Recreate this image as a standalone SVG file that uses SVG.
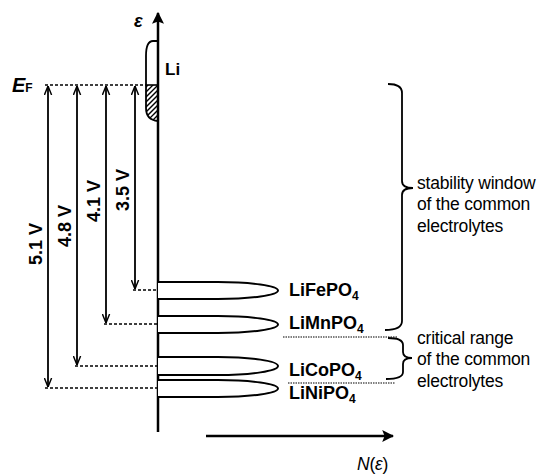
<svg xmlns="http://www.w3.org/2000/svg" width="556" height="475" viewBox="0 0 556 475">
<style>
.ax{stroke:#000;stroke-width:2.5;fill:none}
.ln{stroke:#000;stroke-width:1.8;fill:none}
.dash{stroke:#000;stroke-width:1.6;stroke-dasharray:3 2;fill:none}
.dot{stroke:#000;stroke-width:1.2;stroke-dasharray:1.5 1;fill:none}
.band{stroke:#000;stroke-width:2;fill:#fff}
.br{stroke:#000;stroke-width:1.8;fill:none}
.bl{font-family:"Liberation Sans",Arial,sans-serif;font-weight:bold;fill:#000}
.rg{font-family:"Liberation Sans",Arial,sans-serif;font-size:17.5px;letter-spacing:-0.2px;fill:#000}
.mat{font-size:18px}
.v{font-size:18px}
</style>
<defs>
<marker id="va" viewBox="0 0 10 10" refX="10" refY="5" markerWidth="9" markerHeight="9" markerUnits="userSpaceOnUse" orient="auto-start-reverse"><path d="M0,1 L10,5 L0,9" fill="none" stroke="#000" stroke-width="1.6"/></marker>
<marker id="fa" viewBox="0 0 10 10" refX="9" refY="5" markerWidth="12" markerHeight="12" markerUnits="userSpaceOnUse" orient="auto"><path d="M0,0 L10,5 L0,10 L2,5 z" fill="#000"/></marker>
<clipPath id="hatchclip"><path d="M158,85 H146 L146,108 Q146,120 158,121 Z"/></clipPath>
</defs>
<rect width="556" height="475" fill="#fff"/>

<g id="connectors">
<line class="dash" x1="45" y1="85" x2="146" y2="85"/>
<line class="dash" x1="133" y1="290" x2="158" y2="290"/>
<line class="dash" x1="104" y1="324" x2="158" y2="324"/>
<line class="dash" x1="75" y1="366" x2="158" y2="366"/>
<line class="dash" x1="45" y1="388" x2="158" y2="388"/>
<line class="ln" x1="135" y1="86" x2="135" y2="289" marker-start="url(#va)" marker-end="url(#va)"/>
<line class="ln" x1="106" y1="86" x2="106" y2="323" marker-start="url(#va)" marker-end="url(#va)"/>
<line class="ln" x1="77" y1="86" x2="77" y2="365" marker-start="url(#va)" marker-end="url(#va)"/>
<line class="ln" x1="48" y1="86" x2="48" y2="387" marker-start="url(#va)" marker-end="url(#va)"/>
<line class="dot" x1="283" y1="337" x2="398" y2="337"/>
<line class="dot" x1="288" y1="383" x2="395" y2="383"/>
</g>

<g id="energy-axis">
<line class="ax" x1="158" y1="432" x2="158" y2="13" marker-end="url(#fa)"/>
<text class="bl" x="134" y="27" font-size="18" font-style="italic">ε</text>
</g>

<g id="dos-axis">
<line class="ax" x1="206" y1="436" x2="393" y2="436" marker-end="url(#fa)"/>
<text class="rg" x="357" y="470" font-size="18"><tspan font-style="italic">N</tspan>(<tspan font-style="italic">ε</tspan>)</text>
</g>

<g id="fermi-level">
<text class="bl" x="12" y="92" font-size="20" font-style="italic">E<tspan font-size="12" font-style="normal">F</tspan></text>
</g>

<g id="li">
<g clip-path="url(#hatchclip)" stroke="#000" stroke-width="1.3">
<line x1="138" y1="95" x2="162" y2="71"/>
<line x1="138" y1="100" x2="162" y2="76"/>
<line x1="138" y1="105" x2="162" y2="81"/>
<line x1="138" y1="110" x2="162" y2="86"/>
<line x1="138" y1="115" x2="162" y2="91"/>
<line x1="138" y1="120" x2="162" y2="96"/>
<line x1="138" y1="125" x2="162" y2="101"/>
<line x1="138" y1="130" x2="162" y2="106"/>
<line x1="138" y1="135" x2="162" y2="111"/>
<line x1="138" y1="140" x2="162" y2="116"/>
<line x1="138" y1="145" x2="162" y2="121"/>
</g>
<line x1="146" y1="85" x2="158" y2="85" stroke="#000" stroke-width="1.6"/>
<path class="ln" d="M158,41 H153 Q146,41 146,56 L146,108 Q146,120 158,121"/>
<text class="bl" x="165" y="75" font-size="17">Li</text>
</g>

<g id="LiFePO4">
<path class="band" d="M158,282 H218 A60,8.5 0 0 1 218,299 H158"/>
<text class="bl mat" x="289" y="296">LiFePO<tspan font-size="12" dy="4">4</tspan></text>
</g>
<g id="LiMnPO4">
<path class="band" d="M158,316 H218 A60,8.5 0 0 1 218,333 H158"/>
<text class="bl mat" x="289" y="329">LiMnPO<tspan font-size="12" dy="4">4</tspan></text>
</g>
<g id="LiCoPO4">
<path class="band" d="M158,357 H218 A60,9 0 0 1 218,375 H158"/>
<text class="bl mat" x="289" y="376">LiCoPO<tspan font-size="12" dy="4">4</tspan></text>
</g>
<g id="LiNiPO4">
<path class="band" d="M158,380 H218 A60,8.5 0 0 1 218,397 H158"/>
<text class="bl mat" x="289" y="399">LiNiPO<tspan font-size="12" dy="4">4</tspan></text>
</g>

<g id="voltages">
<text class="bl v" text-anchor="middle" transform="translate(42,244) rotate(-90)">5.1 V</text>
<text class="bl v" text-anchor="middle" transform="translate(71,226) rotate(-90)">4.8 V</text>
<text class="bl v" text-anchor="middle" transform="translate(100,201) rotate(-90)">4.1 V</text>
<text class="bl v" text-anchor="middle" transform="translate(129,190) rotate(-90)">3.5 V</text>
</g>

<g id="stability-window">
<path class="br" d="M388,84 Q402,84 402,93 L402,181 Q402,188 413,188 Q402,188 402,195 L402,321 Q402,330 385,330"/>
<text class="rg" x="417" y="189">stability window</text>
<text class="rg" x="417" y="210">of the common</text>
<text class="rg" x="417" y="232">electrolytes</text>
</g>

<g id="critical-range">
<path class="br" d="M388,338 Q403,338 403,345 L403,352 Q403,358 412,358 Q403,358 403,364 L403,372 Q403,379 386,379"/>
<text class="rg" x="417" y="344">critical range</text>
<text class="rg" x="417" y="365">of the common</text>
<text class="rg" x="417" y="387">electrolytes</text>
</g>
</svg>
